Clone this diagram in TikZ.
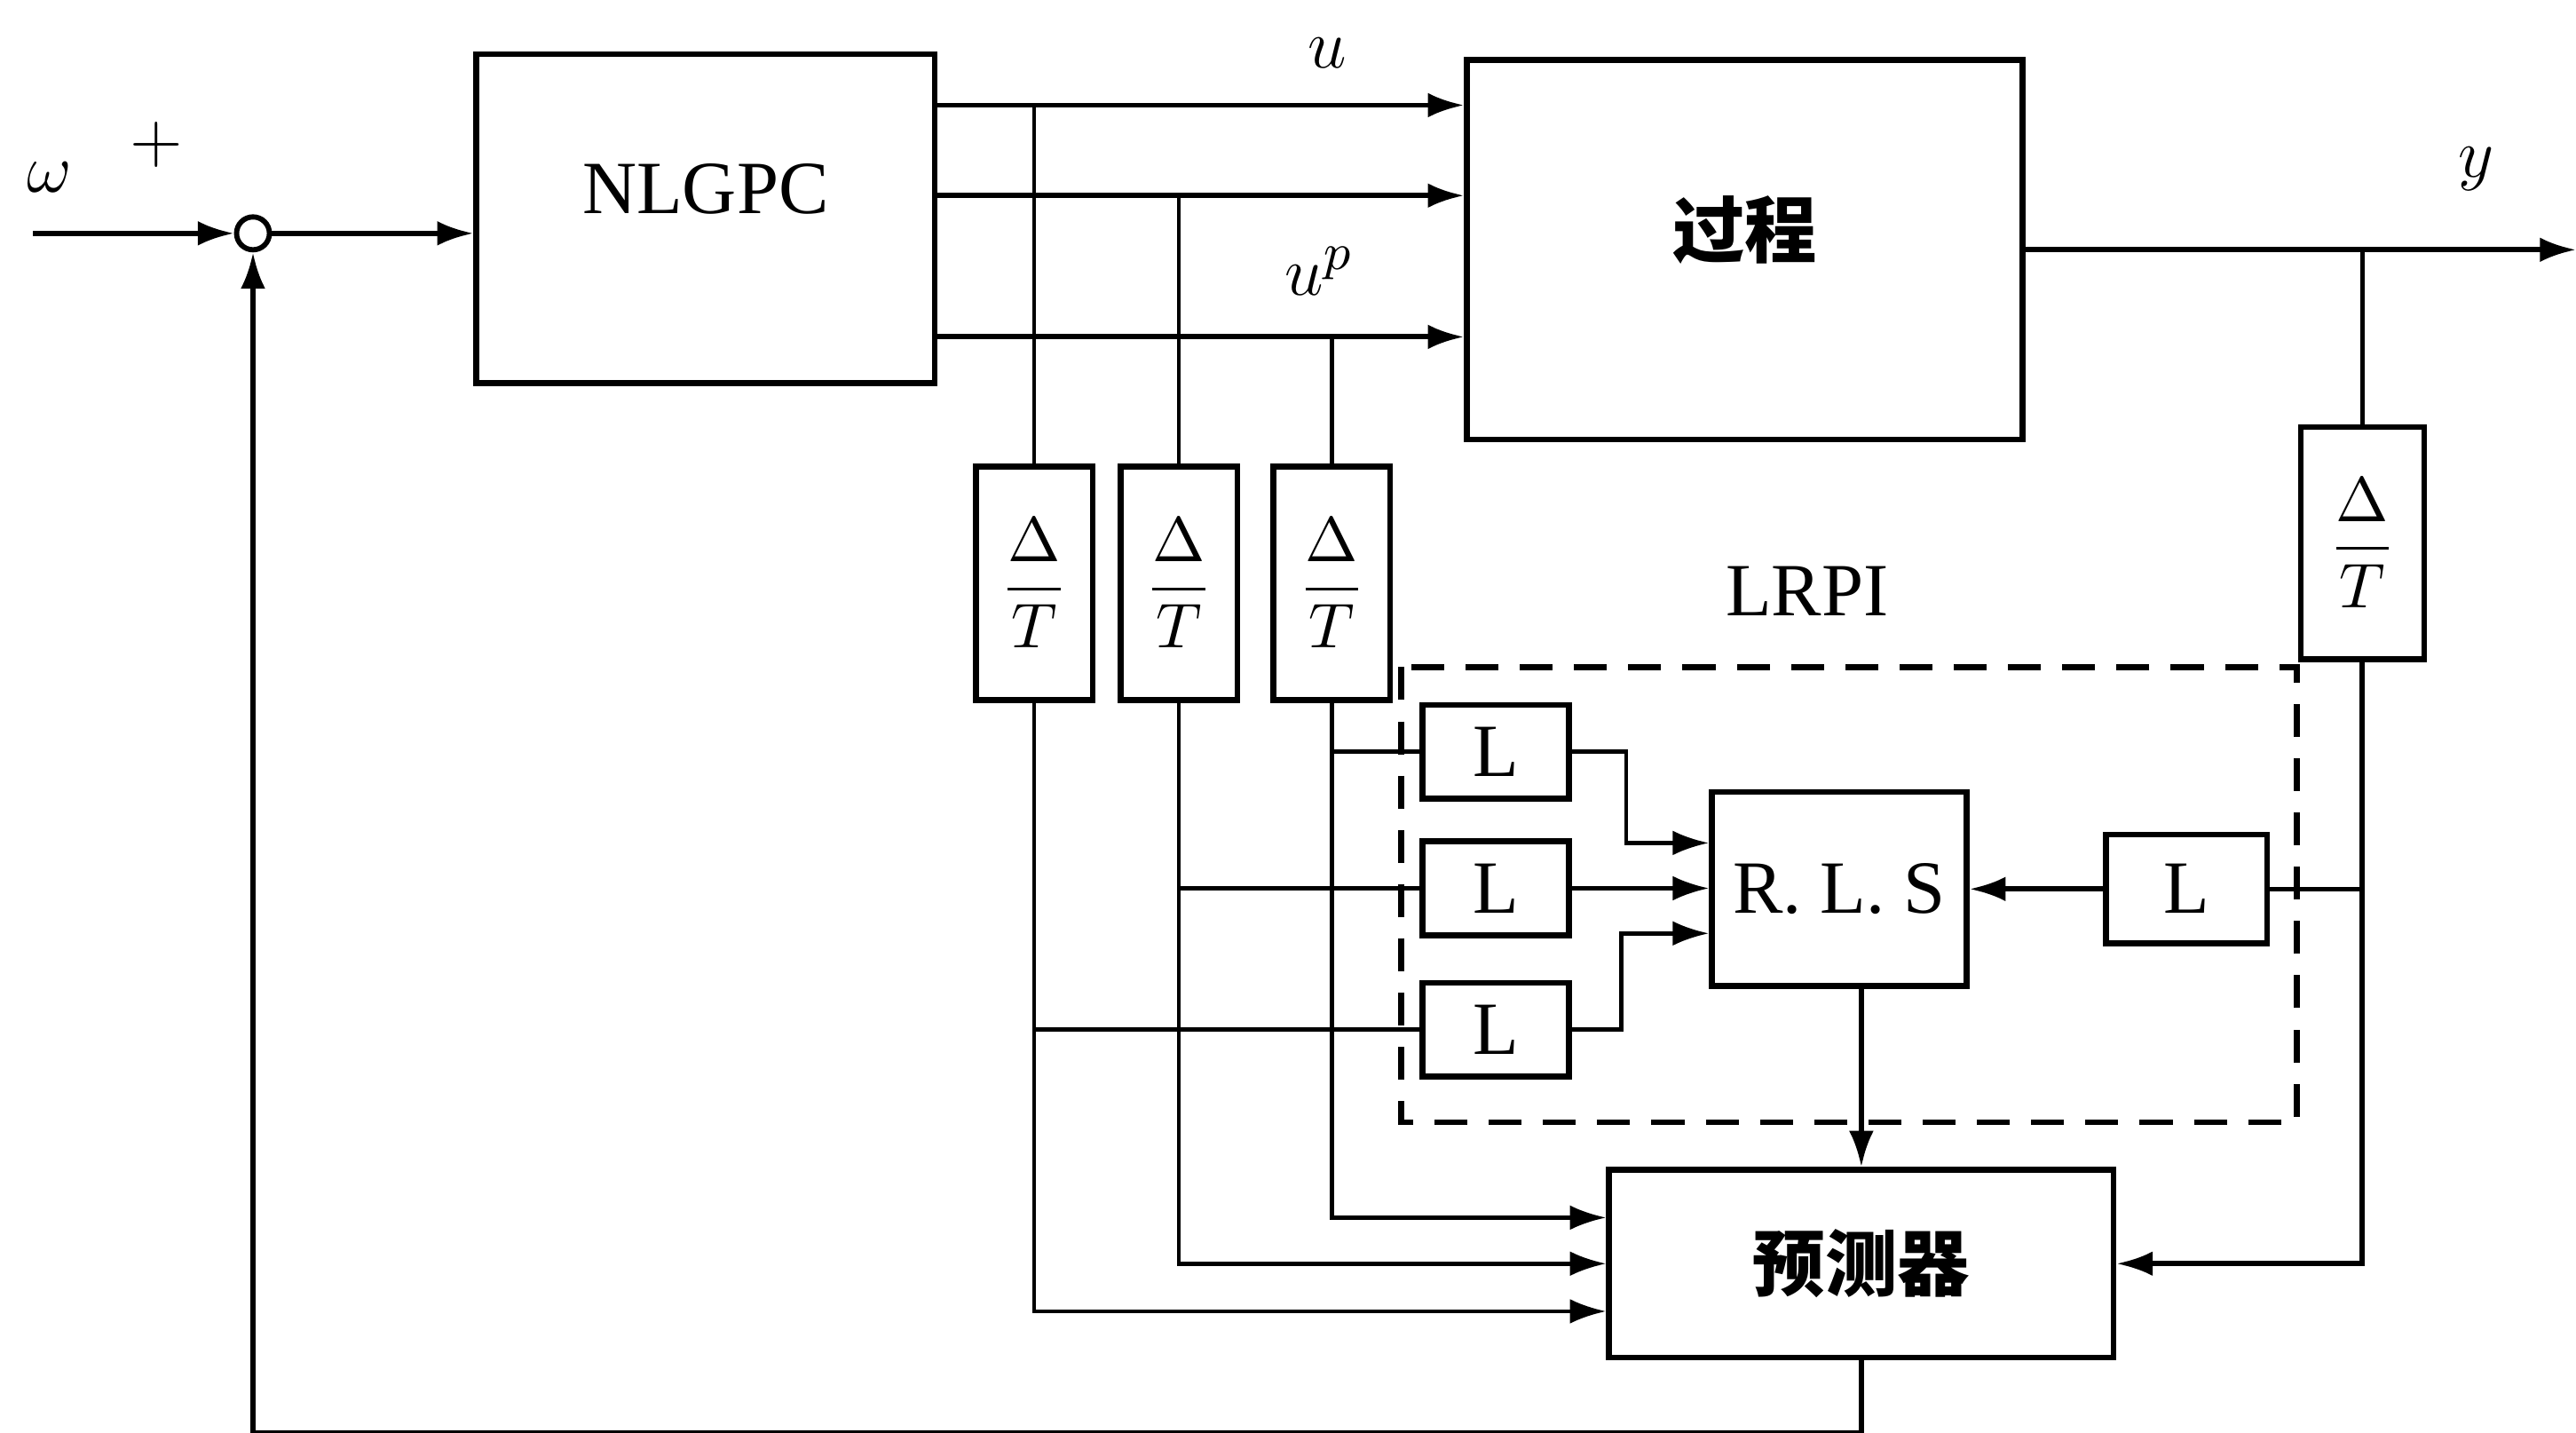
\documentclass[tikz,border=0pt]{standalone}
\usepackage{fontspec}
\setmainfont{Liberation Serif}
\newfontfamily\cjk{Noto Sans CJK SC}
\usepackage{amsmath}
\usetikzlibrary{arrows.meta,positioning}

\begin{document}
\begin{tikzpicture}[
  x=0.01cm, y=-0.01cm,
  >={Latex[length=2.2mm,width=1.5mm]},
  blk/.style={draw, line width=1pt, inner sep=0pt, font=\fontsize{13}{15}\selectfont},
  dt/.style={blk, minimum width=7.1mm, minimum height=14.2mm, font=\fontsize{11}{13}\selectfont},
  lag/.style={blk, minimum width=8.9mm, minimum height=5.7mm},
  zh/.style={font=\fontsize{12.5}{15}\selectfont\cjk\bfseries},
  sig/.style={line width=0.9pt},
  tap/.style={line width=0.7pt},
  lbl/.style={inner sep=0pt, font=\fontsize{13}{15}\selectfont},
  lrpi/.style={line width=1pt, dash pattern=on 2mm off 1.3mm}]
\useasboundingbox (0,0) rectangle (1568,872);
% blocks
\node[blk, minimum width=27.9mm, minimum height=20mm,
      label={[lbl, yshift=1.8mm]center:NLGPC}] (nlgpc) at (429.5,133) {};
\node[blk, minimum width=33.8mm, minimum height=23.1mm,
      label={[zh, yshift=1.2mm]center:过程}] (proc) at (1062,152) {};
\node[draw, circle, line width=0.9pt, minimum size=2mm, inner sep=0pt] (sum) at (154,142) {};
\node[dt] (d1) at (629.5,355) {$\dfrac{\Delta}{T}$};
\node[dt, right=1.35mm of d1] (d2) {$\dfrac{\Delta}{T}$};
\node[dt, right=1.85mm of d2] (d3) {$\dfrac{\Delta}{T}$};
\node[dt, minimum width=7.5mm, minimum height=14.1mm] (dy) at (1438,330.5) {$\dfrac{\Delta}{T}$};
\node[lag] (L1) at (910.5,457.5) {L};
\node[lag, below=2.25mm of L1] (L2) {L};
\node[lag, below=2.55mm of L2] (L3) {L};
\node[blk, minimum width=15.5mm, minimum height=11.8mm] (rls) at (1119.5,541) {R. L. S};
\node[blk, minimum width=9.8mm, minimum height=6.6mm] (L4) at (1331,541) {L};
\node[blk, zh, minimum width=30.7mm, minimum height=11.4mm] (pred) at (1133,769) {预测器};
\draw[lrpi] (853,406) rectangle (1398,683);
% labels
\node[lbl] (wlbl) at (30,108) {$\omega$};
\node[lbl] (plus) at (95,88) {$+$};
\node[lbl] (ulbl) at (808,32) {$u$};
\node[lbl] (uplbl) at (803,165) {$u^{p}$};
\node[lbl] (ylbl) at (1507,103) {$y$};
\node[lbl] (lrpilbl) at (1100,360) {LRPI};
\coordinate (win) at (20,142);
\coordinate (yout) at (1568,152);
\coordinate (o1) at (569,64);
\coordinate (o2) at (569,119);
\coordinate (o3) at (569,205);
% forward path
\draw[sig,->] (win) -- (sum.west);
\draw[sig,->] (sum.east) -- (sum.east -| nlgpc.west);
\draw[sig,->] (o1) -- (o1 -| proc.west);
\draw[sig,->] (o2) -- (o2 -| proc.west);
\draw[sig,->] (o3) -- (o3 -| proc.west);
\draw[sig,->] (proc.east) -- (yout);
\draw[tap] (o1 -| d1.north) -- (d1.north);
\draw[tap] (o2 -| d2.north) -- (d2.north);
\draw[tap] (o3 -| d3.north) -- (d3.north);
\draw[tap] (proc.east -| dy.north) -- (dy.north);
% estimator and predictor
\draw[tap,->] (d3.south) |- ([yshift=2.8mm]pred.west);
\draw[tap,->] (d2.south) |- (pred.west);
\draw[tap,->] (d1.south) |- ([yshift=-2.9mm]pred.west);
\draw[tap] (d3.south |- L1.west) -- (L1.west);
\draw[tap] (d2.south |- L2.west) -- (L2.west);
\draw[tap] (d1.south |- L3.west) -- (L3.west);
\draw[tap,->] (L1.east) -- ++(33,0) |- ([yshift=2.8mm]rls.west);
\draw[tap,->] (L2.east) -- (L2.east -| rls.west);
\draw[tap,->] (L3.east) -- ++(30,0) |- ([yshift=-2.7mm]rls.west);
\draw[sig,->] (L4.west) -- (rls.east);
\draw[tap] (L4.east) -- (L4.east -| dy.south);
\draw[sig,->] (dy.south) |- (pred.east);
\draw[sig,->] (pred.north |- rls.south) -- (pred.north);
\draw[sig,->] (pred.south) -- ++(0,44) -| (sum.south);
\end{tikzpicture}
\end{document}
